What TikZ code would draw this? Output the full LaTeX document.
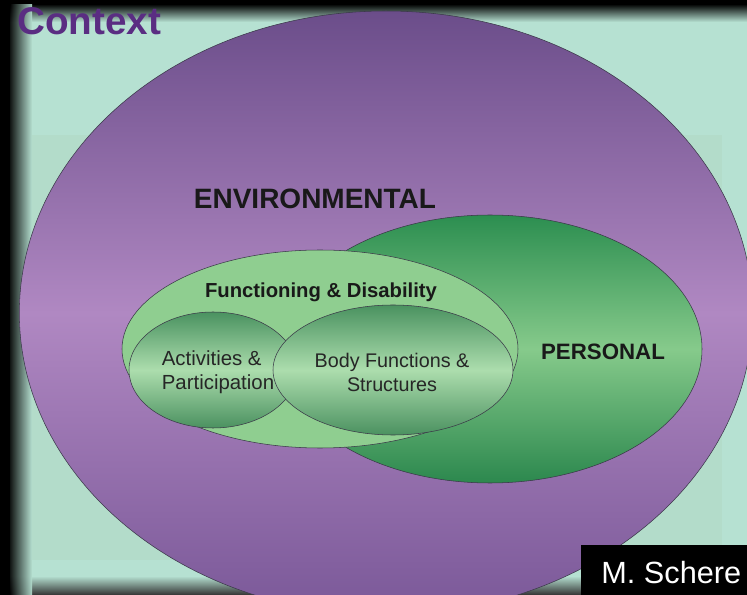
\documentclass[tikz,border=0pt]{standalone}
\usepackage{fontspec}
\setmainfont{Liberation Sans}
\usetikzlibrary{shapes.geometric}

\definecolor{mint}{HTML}{B6E1D2}
\definecolor{mintdark}{HTML}{B3DCCA}
\definecolor{purpletop}{HTML}{6B4D8A}
\definecolor{purplemid}{HTML}{B088C2}
\definecolor{purplebot}{HTML}{7A5898}
\definecolor{greentop}{HTML}{2C8E50}
\definecolor{greenmid}{HTML}{86CA8B}
\definecolor{greenbot}{HTML}{2C884E}
\definecolor{funcgreen}{HTML}{8FCE90}
\definecolor{innertop}{HTML}{4A9260}
\definecolor{innermid}{HTML}{ACDDAD}
\definecolor{innerbot}{HTML}{4B9160}
\definecolor{rimline}{HTML}{3A3848}
\definecolor{ctxpurple}{HTML}{5A2D82}

\begin{document}
\begin{tikzpicture}[x=0.75pt,y=-0.75pt,semithick]

  \tikzstyle{blob}=[ellipse,draw=rimline,thin,inner sep=0pt]
  \tikzstyle{txt}=[inner sep=0pt,text=black!90]

  \useasboundingbox (0,0) rectangle (747,595);

  % frame and background
  \fill[mint] (0,0) rectangle (747,595);
  \fill[mintdark] (30,135) rectangle (722,560);
  \shade[top color=black,bottom color=mint] (0,4) rectangle (747,22);
  \shade[top color=mint,bottom color=black!80] (0,576) rectangle (747,595);
  \shade[left color=black,right color=mint,opacity=0.9] (10,0) rectangle (32,595);
  \fill[black] (0,0) rectangle (10,595);
  \fill[black] (0,0) rectangle (747,4);

  % ellipses
  \node[blob,minimum width=550pt,minimum height=453pt,
        top color=purpletop,bottom color=purplebot,middle color=purplemid]
        (ENV) at (386,313) {};
  \node[blob,minimum width=318pt,minimum height=201pt,
        top color=greentop,bottom color=greenbot,middle color=greenmid]
        (PER) at (490,349) {};
  \node[blob,minimum width=297pt,minimum height=148.5pt,fill=funcgreen]
        (FD) at (320,349) {};
  \node[blob,minimum width=126pt,minimum height=87pt,
        top color=innertop,bottom color=innerbot,middle color=innermid]
        (AP) at (213,370) {};
  \node[blob,minimum width=180pt,minimum height=97.5pt,
        top color=innertop,bottom color=innerbot,middle color=innermid]
        (BFS) at (393,370) {};

  % labels
  \node[txt,text=ctxpurple,anchor=base west,font=\bfseries\fontsize{29}{30}\selectfont]
        (ctx) at (17,35) {Context};
  \node[txt,font=\bfseries\fontsize{21}{24}\selectfont] (env) at (315,199) {ENVIRONMENTAL};
  \node[txt,font=\bfseries\fontsize{15.2}{18}\selectfont] (fd) at (321,292) {Functioning \& Disability};
  \node[txt,font=\bfseries\fontsize{16.7}{20}\selectfont] (per) at (603,352) {PERSONAL};
  \node[txt,align=left,font=\fontsize{15.3}{18}\selectfont,text=black!85]
        (ap) at (218,372) {Activities \&\\Participation};
  \node[txt,align=center,font=\fontsize{14.8}{18}\selectfont,text=black!85]
        (bfs) at (392,372) {Body Functions \&\\Structures};

  % credit
  \fill[black] (581,545) rectangle (747,595);
  \node[txt,text=white,anchor=base west,font=\fontsize{23}{26}\selectfont]
        (cred) at (601,584) {M. Schere};

\end{tikzpicture}
\end{document}
